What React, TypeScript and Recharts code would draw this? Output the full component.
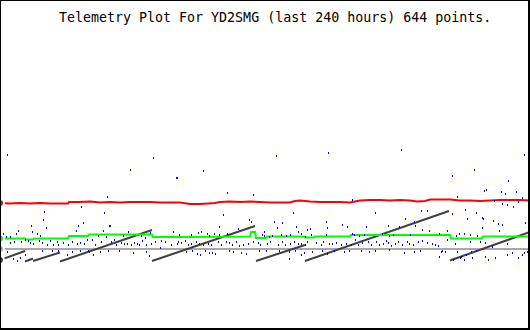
import { ComposedChart, Line, Scatter, XAxis, YAxis } from "recharts";

// readings: x = time position, y = plot row (top = 0)
const TITLE = "Telemetry Plot For YD2SMG (last 240 hours) 644 points.";

const redPts: [number, number][] = [
  [0, 203], [10, 203.5], [20, 203], [30, 203.5], [40, 203], [50, 203.5], [60, 203.5], [68, 203.5],
  [69, 202], [80, 202], [90, 201.5], [100, 202.5], [110, 202], [120, 202.5], [130, 202], [140, 202],
  [150, 202], [160, 202.5], [170, 202.5], [180, 202.5], [190, 204], [200, 204], [208, 203.5], [215, 203],
  [220, 202], [230, 201.5], [240, 202], [250, 201.5], [260, 202], [270, 202.5], [280, 202.5], [290, 202.5],
  [295, 201], [300, 200.5], [310, 201.5], [320, 202], [330, 202], [340, 202], [350, 202.5], [360, 200.5],
  [370, 200], [380, 200], [390, 200.5], [400, 200], [410, 200.5], [417, 201.5], [425, 201], [430, 199.5],
  [440, 199.5], [450, 199.5], [460, 200.5], [470, 200.5], [480, 201], [490, 200.5], [500, 200], [510, 200],
  [520, 200], [530, 200.5],
];

const greenPts: [number, number][] = [
  [0, 238.5], [25, 238.5], [26, 239.5], [33, 239.5], [34, 238.5], [68, 238.5], [69, 236], [88, 236],
  [89, 234.5], [152, 234.5], [153, 237], [180, 237], [250, 236.5], [251, 232], [255, 232], [256, 238],
  [266, 238], [267, 236.5], [304, 236.5], [305, 237.5], [314, 237.5], [315, 236.5], [350, 236.5],
  [351, 235], [450, 235], [451, 238.5], [482, 238.5], [483, 236.5], [530, 236.5],
];

const grayPts: [number, number][] = [[0, 249], [530, 249]];

// counter ramps, each starts low and climbs until it resets
const rampPts: [number, number][][] = [
  [[0, 260], [25, 251]],
  [[25, 261.5], [33, 258.5]],
  [[33, 261], [60, 252.5]],
  [[60, 261.5], [152, 230]],
  [[152, 261], [255, 226]],
  [[256, 261], [305, 245]],
  [[305, 261], [449, 211]],
  [[450, 260.5], [530, 232]],
];

const blueA: [number, number][] = [
  [7, 155], [81, 207], [44, 212], [43, 220], [83, 223], [78, 226], [31, 226], [46, 228], [18, 231], [76, 231],
  [3, 234], [6, 237], [10, 237], [16, 234], [32, 232], [37, 234], [40, 236], [25, 240], [14, 242], [10, 243],
  [21, 242], [28, 241], [30, 243], [33, 244], [39, 241], [42, 243], [47, 245], [50, 241], [53, 245], [57, 242],
  [58, 245], [63, 243], [68, 245], [72, 242], [77, 244], [80, 243], [84, 244], [87, 240], [0, 251], [7, 252],
  [13, 259], [17, 261], [20, 258], [25, 255], [42, 251], [52, 251], [58, 251], [67, 255], [72, 252], [80, 251],
  [88, 251],
];

const blueB: [number, number][] = [
  [153, 158], [130, 170], [176, 178], [107, 197], [104, 213], [109, 226], [110, 226], [103, 231], [128, 232],
  [98, 236], [106, 237], [123, 236], [141, 236], [145, 238], [150, 233], [173, 232], [92, 240], [95, 245],
  [101, 242], [111, 242], [114, 240], [116, 245], [121, 243], [124, 244], [127, 244], [131, 245], [134, 243],
  [137, 244], [139, 245], [142, 241], [146, 245], [151, 244], [155, 242], [161, 241], [165, 242], [171, 245],
  [89, 252], [93, 255], [100, 252], [108, 251], [119, 251], [133, 253], [146, 252], [149, 256], [160, 248],
  [177, 244],
];

const blueC: [number, number][] = [
  [203, 171], [177, 178], [227, 193], [253, 195], [223, 215], [249, 220], [251, 222], [219, 227], [238, 229],
  [179, 235], [191, 235], [198, 233], [201, 232], [207, 234], [209, 236], [214, 234], [219, 235], [227, 234],
  [262, 235], [264, 236], [178, 242], [181, 243], [185, 241], [188, 245], [191, 244], [196, 242], [199, 244],
  [203, 245], [208, 244], [211, 245], [218, 242], [221, 245], [226, 242], [229, 243], [232, 245], [236, 242],
  [239, 246], [243, 245], [248, 244], [253, 242], [258, 243], [260, 245], [186, 252], [192, 251], [197, 254],
  [200, 255], [205, 251], [209, 253], [212, 253], [215, 254], [229, 251], [233, 252], [241, 253], [246, 254],
  [259, 251],
];

const blueD: [number, number][] = [
  [328, 153], [276, 156], [293, 213], [274, 222], [277, 228], [282, 223], [326, 222], [327, 228], [342, 225],
  [347, 227], [296, 227], [307, 230], [310, 229], [352, 234], [264, 232], [269, 237], [272, 236], [281, 235],
  [286, 236], [290, 235], [298, 232], [301, 234], [305, 237], [311, 235], [326, 235], [267, 244], [270, 242],
  [278, 245], [282, 242], [285, 245], [290, 244], [294, 242], [298, 244], [301, 244], [305, 245], [307, 242],
  [316, 243], [321, 245], [323, 242], [329, 244], [332, 244], [336, 243], [341, 245], [346, 244], [351, 245],
  [266, 251], [279, 251], [289, 252], [295, 251], [301, 255], [304, 253], [312, 252], [322, 251], [327, 254],
  [334, 251], [344, 252], [349, 251], [289, 259],
];

const blueE: [number, number][] = [
  [401, 150], [352, 200], [375, 213], [421, 211], [427, 211], [405, 219], [366, 227], [388, 226], [399, 227],
  [414, 222], [415, 226], [422, 230], [429, 231], [354, 235], [359, 236], [364, 235], [382, 234], [389, 236],
  [393, 235], [410, 235], [439, 234], [355, 240], [358, 245], [362, 243], [368, 242], [371, 245], [376, 242],
  [379, 245], [383, 244], [386, 241], [388, 243], [391, 246], [395, 244], [398, 242], [402, 245], [407, 242],
  [409, 244], [413, 245], [418, 242], [422, 241], [427, 243], [432, 244], [435, 245], [438, 246], [361, 251],
  [369, 252], [375, 251], [389, 250], [404, 253], [414, 252], [420, 251], [439, 257], [441, 252],
];

const blueF: [number, number][] = [
  [524, 155], [474, 170], [452, 176], [508, 181], [484, 191], [486, 190], [501, 192], [505, 194], [516, 192],
  [457, 197], [494, 201], [502, 204], [507, 205], [513, 207], [518, 202], [522, 198], [465, 210], [476, 213],
  [452, 214], [482, 218], [483, 219], [467, 219], [493, 221], [498, 224], [502, 225], [482, 228], [525, 223],
  [447, 231], [499, 231], [456, 236], [459, 234], [464, 234], [470, 235], [477, 236], [447, 240], [455, 244],
  [470, 242], [480, 242], [485, 243], [492, 247], [507, 244], [442, 251], [445, 252], [457, 252], [461, 257],
  [466, 255], [471, 252], [476, 251], [485, 257], [488, 260], [495, 258], [507, 255], [512, 253], [518, 258],
  [522, 255], [524, 253], [527, 252], [453, 260], [460, 258], [464, 260], [472, 258],
];

const toRows = (pts: [number, number][]) => pts.map(([x, y]) => ({ x, y }));

// join ramp segments with a gap between each reset
const rampRows = rampPts.flatMap((seg, i) => {
  const rows: { x: number; y: number | null }[] = toRows(seg);
  if (i < rampPts.length - 1) rows.push({ x: seg[1][0], y: null });
  return rows;
});

const blueRows = toRows([...blueA, ...blueB, ...blueC, ...blueD, ...blueE, ...blueF]);

const Dot = (props: any) => {
  const { cx, cy } = props;
  if (cx == null || cy == null) return <g />;
  return <rect x={cx} y={cy - 1} width={1} height={2} fill="#0000ff" />;
};

export default function App() {
  return (
    <div style={{ position: "relative", width: 530, height: 330, background: "#fff" }}>
      <style>{`body{margin:0}`}</style>
      <ComposedChart width={530} height={330} margin={{ top: 0, right: 0, bottom: 0, left: 0 }}>
        <XAxis dataKey="x" type="number" domain={[0, 530]} hide />
        <YAxis dataKey="y" type="number" domain={[0, 330]} reversed hide />
        <Line data={toRows(grayPts)} dataKey="y" stroke="#a9a9a9" strokeWidth={2} dot={false} isAnimationActive={false} />
        <Line data={rampRows} dataKey="y" stroke="#404040" strokeWidth={2} dot={false} isAnimationActive={false} />
        <Line data={toRows(greenPts)} dataKey="y" stroke="#00ff00" strokeWidth={2} dot={false} isAnimationActive={false} />
        <Line data={toRows(redPts)} dataKey="y" stroke="#ff0000" strokeWidth={2} dot={false} isAnimationActive={false} />
        <Scatter data={blueRows} dataKey="y" shape={Dot} isAnimationActive={false} />
      </ComposedChart>
      <div
        style={{
          position: "absolute",
          left: 59,
          top: 11,
          fontFamily: "'DejaVu Sans Mono', monospace",
          fontSize: 13.3,
          lineHeight: "13.3px",
          whiteSpace: "pre",
          color: "#000",
        }}
      >
        {TITLE}
      </div>
      <div
        style={{
          position: "absolute",
          inset: 0,
          boxSizing: "border-box",
          borderStyle: "solid",
          borderColor: "#000",
          borderWidth: "1px 2px 2px 1px",
          pointerEvents: "none",
        }}
      />
    </div>
  );
}
